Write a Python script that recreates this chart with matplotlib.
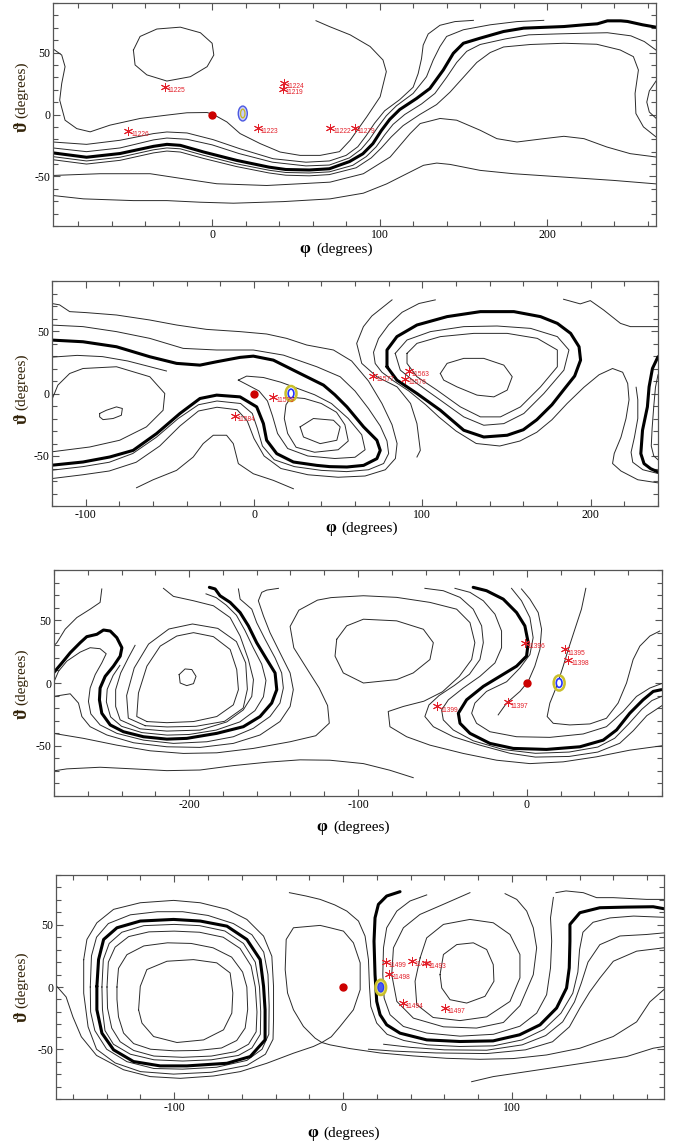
import matplotlib
matplotlib.use("Agg")
import matplotlib.pyplot as plt
from matplotlib.patches import Ellipse
from matplotlib.ticker import MultipleLocator

plt.rcParams['font.family'] = ['Liberation Serif', 'DejaVu Serif']
plt.rcParams['axes.unicode_minus'] = False

W, H = 676, 1142

# ---------------- panel 1 contour lines (phi, theta) ----------------
p1_thick = [(-95,-31),(-75,-34.5),(-55,-31.5),(-35,-25.7),(-27,-24.1),(-19,-24.9),(-5,-30.3),(14.5,-37),(34,-42.5),(44,-44.4),(58,-44.8),(70,-43.8),(82,-38),(90,-31.7),(96,-23.5),(101,-13),(106,-4),(112,4),(122,12.9),(130,21),(138,35.9),(144,49.4),(150,57.5),(160,61.6),(174,67),(186,69.7),(210,71),(222,72.4),(230,73.2),(236,75.6),(244,75.6),(248,75.1),(257,72.4),(265,70.5)]
p1_t1 = [(-95,-22.2),(-75,-24.1),(-55,-20.8),(-35,-15.4),(-27,-14.1),(-15,-14.9),(0.6,-20.3),(16.5,-27.6),(36.4,-35.7),(56,-38.5),(70,-37.5),(80,-33),(87,-26),(92,-17),(97,-7),(103,3),(112,12),(120,22),(123,33),(125,45),(126,56),(129,65),(136,72),(145,75),(156,76)]
p1_t2 = [(-95,-27),(-75,-30),(-55,-27),(-35,-20.5),(-27,-19),(-15,-20),(0,-24.5),(16,-31.5),(36,-38.5),(56,-41.5),(70,-40.8),(82,-35),(89,-28),(94,-20),(99,-10),(104,-1),(110,7),(120,17),(128,30.5),(132,44),(136,54.8),(140,63),(150,68.4),(166,72.4),(182,75),(198,76)]
p1_t3 = [(-95,-34),(-75,-37.5),(-55,-34.5),(-35,-28.5),(-27,-27),(-19,-27.7),(-5,-33),(14.5,-39.8),(34,-45),(44,-46.8),(58,-47.2),(70,-46.3),(84,-41),(92,-34),(98,-26),(103,-16.5),(108,-8),(115,0),(125,8.5),(133,17),(140,30),(146,42),(152,51),(160,56.5),(175,61),(189,64.3),(205,65),(222,65.6),(236,66),(250,63.5),(258,58.9),(265,52)]
p1_t4 = [(-95,-36.5),(-75,-40),(-55,-37),(-35,-31),(-27,-29.5),(-19,-30.3),(-5,-35.5),(14.5,-42),(34,-47.2),(44,-49),(58,-49.5),(70,-48.5),(86,-43),(95,-35),(101,-27),(107,-18),(114,-9),(124,0),(134,8),(142,18),(150,30),(158,42),(166,50),(174,54.5),(190,56.5),(210,57.5),(229.6,56.7),(243.6,52.1),(251.5,46.7),(254.5,35.9),(252.5,17),(253,0.8),(257.5,-10),(265,-18.1)]
p1_b = [(62,75.7),(70,71),(82.4,64.3),(94.3,54.9),(102,44),(104,34.6),(100.3,14.3),(92.3,-1.9),(82.4,-20.8),(76,-30),(64.5,-33),(52.5,-33),(40.6,-30.3),(28.7,-23.5),(16.7,-15.4),(8.8,-6),(0.8,0),(-3,1.6),(-15,1.4),(-27,-0.5),(-43,-3.2),(-61,-8.6),(-72.8,-14),(-80.8,-11.4),(-87.8,-4.6),(-91,11.6),(-89.8,25),(-87.8,38.6),(-89.8,48),(-94.7,52.7)]
p1_loop = [(-47,52),(-43,63),(-33,69),(-19,70.5),(-7,66),(0,57.5),(1,48),(-3,38.6),(-13,30.5),(-27,27),(-39,32),(-46,40),(-47,52)]
p1_arc = [(265,27),(261,19),(259.5,10),(261,2),(265,-3)]
p1_low1 = [(-95,-49.2),(-66.9,-47.8),(-37,-47.8),(-17.1,-51.9),(2.8,-55.9),(32.6,-57.3),(52.5,-55.9),(70.4,-54.6),(90.3,-47.8),(106.3,-34.3),(118.2,-15.4),(124.2,-7.3),(136.1,-3.2),(146,-4.6),(160,-12.7),(170,-19.5),(182,-22.2),(198,-19.5),(210,-17.6),(222,-19.5),(235.6,-26.2),(249.6,-31.6),(265,-34.3)]
p1_low2 = [(-95,-65.4),(-76.8,-68.1),(-47,-69.5),(-27,-69.5),(-7.2,-70.8),(12.7,-71.6),(42.6,-70.3),(70.4,-68.1),(90.3,-63.5),(104.2,-56),(116.2,-47.8),(126.2,-41),(134.1,-39.2),(142.1,-40.3),(160,-45.1),(179.9,-47.8),(209.8,-50.5),(239.7,-53.2),(265,-56)]
p1_stars = [(-28,21.9),(-50,-13.5),(43,25.7),(42.2,20.3),(27.3,-10.8),(70.6,-10.6),(85.2,-10.6)]
p1_labels = ['11225','11226','11224','11219','11223','11222','11279']
p1_sat = (18.3, 0.8)

# ---------------- panel 2 ----------------
p2_thick = [(-121,42.8),(-101.6,41.4),(-81.7,37.4),(-61.9,29.4),(-46,24.1),(-32.1,22.7),(-22.2,25.4),(-8.3,28.9),(-0.4,29.9),(11.5,26.7),(27.4,16),(41.3,6.7),(48,-1),(55.2,-10.7),(65.1,-26.7),(73,-37.4),(75,-45.5),(73,-52.1),(65.1,-57.5),(55.2,-58.8),(45,-58.5),(37.3,-57.5),(23.4,-54.8),(13.5,-48.1),(7.5,-37.4),(5.6,-24.1),(1.6,-10.7),(-8.3,-2.7),(-22.2,-1.3),(-32.1,-4),(-44,-16),(-57.9,-32.1),(-71.8,-45.5),(-85.7,-50.8),(-101.6,-54.8),(-121,-57.5)]
p2_u1 = [(-121,72.2),(-115.5,70.9),(-109.5,65.5),(-99.6,64.7),(-81.7,62.8),(-61.9,58.8),(-46,54.8),(-28.2,51.3),(-8.3,49.5),(7.5,47.6),(19.4,44.1),(31.3,38.8),(47.2,34.8),(58,26),(68,10),(76,-8),(82,-25),(85,-40),(84,-52),(78,-61),(66,-66),(50,-67),(32,-65),(16,-60),(6,-50),(0,-36),(-4,-22),(-10,-13),(-22,-11),(-33,-14),(-44,-26),(-56,-42),(-70,-55),(-86,-62),(-101.6,-65),(-121,-68.2)]
p2_u2 = [(-121,54.8),(-101.6,53.5),(-81.7,49.5),(-61.9,44.1),(-42.1,36.1),(-22.2,34.8),(-0.4,34.8),(17.5,30.7),(37.3,21.4),(51.2,13.4),(60,2),(68,-12),(75,-26),(79,-38),(80,-48),(77,-56),(68,-61),(55,-62.5),(40,-61.5),(24,-58.5),(12,-53),(5,-42),(2,-28),(-1,-16),(-8,-8),(-22,-6),(-33,-9),(-45,-20),(-58,-35),(-72,-48),(-86,-55),(-101.6,-58.5),(-121,-61.5)]
p2_o1 = [(82,74.9),(70,62),(65,53.5),(61,40.1),(64,24.1),(73,13.4),(85,5.3),(93,-8),(96.8,-24.1),(98.8,-45.5),(96.8,-50.8)]
p2_o2 = [(107.7,74.9),(98,72),(88,65),(80,55),(74,44),(71,33),(72,24),(76,17),(83,10),(92,2),(102,-9),(110,-19),(120,-30),(132,-40),(146,-42),(158,-38),(168,-31),(177,-21),(186,-8),(196,5),(205,15),(213,20),(219,17),(222,8),(222.8,-5),(221,-20),(218,-35),(214,-48),(213,-56),(218,-62),(228,-69),(240,-71.5)]
p2_w2 = [(227,5),(228,-5),(228,-20),(226,-35),(224,-47),(225,-55),(231,-61),(240,-64)]
p2_thick2 = [(240,29.4),(236.7,20),(234.7,5.3),(233.7,-10.7),(230.8,-29.4),(229.8,-48.1),(231.7,-56.1),(235.7,-60.2),(240,-62.8)]
p2_w3 = [(240,15),(238.5,5),(237.5,-10),(236.5,-28),(236,-42),(237.5,-50),(240,-53)]
p2_tr = [(183.9,75.4),(193.8,71.7),(199.8,74.3),(207.7,66.8),(217.7,56.1),(223.6,53.5),(240,53.5)]
p2_loopthick = [(79,21.4),(79,34.8),(84.9,45.5),(96.8,54.8),(114.7,61.5),(134.5,65.5),(154.4,65.5),(170.2,61.5),(180.2,56.1),(188.1,48.1),(193.1,37.4),(194,26.7),(190.5,14),(184,3),(177,-9),(168,-21),(160,-29),(150.4,-33.4),(136.5,-34.8),(124.6,-29.4),(110.7,-13.4),(96.8,0),(84.9,10.7),(79,21.4)]
p2_i1 = [(83.9,32.1),(90.9,42.8),(104.8,49.5),(124.6,53.5),(144.4,54),(164.3,52.1),(180.2,45.5),(187.1,34.8),(184.1,18.7),(172.2,0),(160.3,-16),(148.4,-24.1),(136.5,-25.4),(124.6,-18.7),(110.7,-5.3),(96.8,8),(86.9,18.7),(83.9,32.1)]
p2_i2 = [(90.9,32.1),(96.8,40.1),(110.7,45.5),(130.6,48.1),(150.4,48.1),(168.3,44.1),(180.2,34.8),(180.2,21.4),(170.2,5.3),(158.3,-10.7),(146.4,-18.7),(134.5,-18.7),(122.6,-10.7),(108.7,2.7),(96.8,13.4),(90.9,24.1),(90.9,32.1)]
p2_i3 = [(110.7,16),(114.7,24.1),(124.6,28.1),(136.5,28.1),(148.4,22.7),(153.4,13.4),(150.4,2.7),(142.5,-2.7),(132.5,-1.3),(120.6,5.3),(112.7,10.7),(110.7,16)]
p2_loopl = [(-121,-8),(-116.5,6.7),(-109.5,16),(-101.6,20),(-81.7,21.4),(-61.9,13.4),(-53,0),(-54,-13.4),(-63.9,-26.7),(-79.8,-37.4),(-97.6,-42.8),(-121,-46.8)]
p2_small = [(-91.7,-16),(-87.7,-13.4),(-81.7,-10.7),(-78.2,-12),(-78.8,-17.4),(-83.7,-20),(-89.7,-20.9),(-91.7,-18.7),(-91.7,-16)]
p2_s1 = [(-121,29),(-105,30.5),(-90,29.5),(-75,26),(-62,21.5),(-52,18)]
p2_r1 = [(27.4,-26.7),(35.3,-20),(47.2,-21.4),(51.2,-26.7),(49.2,-37.4),(39.3,-40.1),(29.4,-34.8),(27.4,-26.7)]
p2_r2 = [(22,-3),(30,-4),(40,-8),(49,-15),(54,-25),(56,-38),(50,-45),(36,-47),(25,-43),(20,-32),(18,-20),(19,-9),(22,-3)]
p2_r3 = [(-9.3,10.7),(-4.4,13.9),(5.6,12.8),(16,9),(26,4),(36,-1),(46,-8),(56,-20),(64,-33),(66,-45),(60,-51),(48,-52),(32,-50),(20,-44),(14,-32),(11,-18),(8,-6),(3,2),(-4,7),(-9.3,10.7)]
p2_hump = [(-69.8,-75.4),(-59.9,-69),(-46,-61.5),(-36.1,-50.8),(-30.2,-40.1),(-24.2,-33.4),(-16.3,-33.4),(-12.3,-40.1),(-9.3,-56.1),(-0.4,-64.2),(11.5,-69.5),(23.4,-76.2)]
p2_stars = [(11.5,-2.7),(-11.3,-18.2),(70.9,13.9),(91.9,18.2),(89.9,12)]
p2_labels = ['11579','11584','11577','11563','11576']
p2_sat = (22, 0)

# ---------------- panel 3 ----------------
p3_thick = [(-280.3,8),(-275.3,16),(-270.4,24.1),(-264.5,32.1),(-260.6,36.9),(-254.6,38.8),(-250.7,42.2),(-246.7,41.4),(-242.8,36.1),(-239.8,28.1),(-240.8,21.4),(-244.8,13.4),(-249.7,5.3),(-252.7,-4),(-253.1,-13.4),(-251.7,-24.1),(-246.7,-33.4),(-238.9,-38.8),(-227,-42.8),(-213.2,-44.7),(-201.4,-44.1),(-183.6,-40.1),(-167.9,-34.8),(-158,-26.7),(-151.1,-16),(-148.1,-5.3),(-149.1,8),(-154,18.7),(-160,32.1),(-164.9,45.5),(-169.8,56.1),(-175.7,64.2),(-181.7,69.5),(-184.6,74.9),(-188,76.2)]
p3_c0 = [(-205.9,6.7),(-202.4,11.2),(-198.4,10.7),(-195.9,5.3),(-197.4,-0.5),(-201.4,-2.1),(-205.3,0),(-205.9,6.7)]
p3_c1 = [(-225,-30.7),(-231,-26.7),(-230,-8),(-225,13.4),(-217.1,29.4),(-207.3,37.4),(-197.4,40.1),(-185.6,36.9),(-175.7,26.7),(-171.8,10.7),(-170.8,-5.3),(-173.8,-17.4),(-183.6,-26.7),(-197.4,-30.7),(-213.2,-31.6),(-225,-30.7)]
p3_c2 = [(-226,-34),(-236,-28),(-237,-10),(-232.5,12),(-224,31),(-212,43),(-198,47),(-183,43.5),(-172,33),(-166.5,16),(-165.5,-5),(-168,-20),(-179,-30.5),(-196,-34.5),(-213,-35),(-226,-34)]
p3_c3 = [(-215.2,75.4),(-209.3,69),(-197.4,65.5),(-185.6,61.5),(-175.7,52.1),(-169.8,37.4),(-164.9,18.7),(-161.9,2.7),(-162.9,-10.7),(-167.9,-21.4),(-177.7,-31),(-193.5,-37.5),(-213.2,-38.3),(-229,-36.5),(-240.8,-29.4),(-243.5,-18.7),(-243.5,-5.3),(-240.5,8),(-236,20),(-232,30)]
p3_c4 = [(-241,14),(-245,6),(-248.5,-5),(-249,-15),(-246.5,-27),(-240,-34.5),(-228,-39.5),(-213,-41.5),(-200,-41),(-184,-37.5),(-170,-31),(-161,-22),(-156,-11),(-154.5,2),(-157,15),(-162,28),(-167,42),(-172,54),(-178,62),(-184,68),(-190,71)]
p3_ea = [(-280.3,0),(-277.3,9.4),(-272.4,17.4),(-264.5,24.6),(-258.6,28.1),(-252.7,27.3),(-249.1,23.3),(-251.7,16),(-255.6,6.7),(-258.6,-4),(-259.6,-14.7),(-258.2,-24.6),(-252.7,-33.4),(-242.8,-40.1),(-227,-45.5),(-209.3,-48.1),(-189.5,-46.8),(-173.8,-42.8),(-162,-36.1),(-152.1,-26.7),(-146.2,-16),(-144.2,-4),(-145.2,8),(-149.1,20),(-155,34.8),(-160,48.1),(-162.9,58.8),(-169.8,66.8),(-170.8,74.9)]
p3_eb = [(-280.3,-10.7),(-270.4,-8.6),(-265.5,-16),(-263.5,-26.7),(-258.6,-34.8),(-248.7,-41.4),(-232.9,-47.6),(-213.2,-50.8),(-193.5,-51.3),(-173.8,-48.1),(-158,-41.4),(-146.2,-30.7),(-140.2,-18.7),(-138.3,-5.3),(-140.2,8),(-146.2,24.1),(-152.1,40.1),(-156,53.5),(-159,65.5),(-157,72.2),(-154,74),(-147.1,75.4)]
p3_e0 = [(-251.7,74.9),(-252.7,64.2),(-258.6,58.8),(-266.5,52.1),(-273.4,42.8),(-278.3,32.1),(-280.3,29.4)]
p3_long = [(-280.3,-40.1),(-262.5,-44.1),(-242.8,-49.5),(-223.1,-54),(-203.4,-56.1),(-183.6,-55.6),(-162,-52.1),(-140.2,-46.8),(-125,-42),(-117,-32),(-118,-18),(-123,-4),(-131,13),(-138,28),(-140.2,45),(-135,58),(-124,66),(-116,68),(-110,68.5),(-96.8,69.5),(-77.1,68.2),(-57.4,64.2),(-41.6,58.8),(-33.7,48.1),(-30.8,32.1),(-32.7,18.7),(-40,5.3),(-50,-7),(-61,-14.5),(-73.2,-18.7),(-82.1,-22.7),(-81.1,-34.8),(-71.2,-42.8),(-57.4,-49.5),(-37.7,-56.1),(-17.9,-61.5),(1.8,-64.2),(21.5,-62.8),(41.2,-58.8),(60.9,-53.5),(80,-50)]
p3_loop = [(-112.6,34.8),(-106.7,45.5),(-96.8,50.8),(-77.1,49.5),(-61.3,42.8),(-55.4,32.1),(-57.4,18.7),(-67.3,8),(-77.1,2.7),(-96.8,0),(-108.7,8),(-113.6,21.4),(-112.6,34.8)]
p3_low2 = [(-280.3,-70),(-272.4,-68.4),(-252.7,-67.1),(-233,-68.4),(-213.2,-69.8),(-193.5,-69.3),(-173.8,-65.8),(-154,-63.1),(-134.3,-61.2),(-116.6,-61.5),(-96.8,-64.2),(-81.1,-69.5),(-67.3,-75.4)]
p3_thickb = [(-31.8,76.2),(-23.9,73.5),(-14,66.8),(-6.1,56.1),(-1.2,45.5),(0.8,32.1),(-0.2,21.4),(-6.1,13.4),(-16,5.3),(-25.8,-2.7),(-35.7,-13.4),(-40.6,-24.1),(-39.6,-32.1),(-33.7,-40.1),(-21.9,-48.1),(-8.1,-52.1),(11.6,-52.9),(31.4,-50.8),(45.2,-45.5),(53.1,-37.4),(60.9,-24.1),(68.8,-13.4),(74.8,-6.7),(79.7,-5.3)]
p3_f1 = [(-42.6,75.4),(-33.7,72.2),(-25.8,65.5),(-18.9,54.8),(-15,41.4),(-15,28.1),(-18.9,16),(-27.8,5.3),(-37.7,-4),(-46.5,-13.4),(-50.5,-21.4),(-49.5,-29.4),(-43.6,-37.4),(-31.8,-46),(-14,-53),(5,-56),(25,-55),(42,-51),(52,-44),(60,-33),(68,-21),(74,-14),(80,-10.5)]
p3_f2 = [(-60.4,75.4),(-49.5,73.5),(-39.6,68.2),(-31.8,58.8),(-26.8,45.5),(-25.8,32.1),(-27.8,18.7),(-34,7),(-43,-2),(-52,-10),(-58,-17.5),(-60.4,-26.7),(-55.4,-34.8),(-43.6,-42.8),(-27.8,-49.5),(-10,-56),(5,-59),(25,-58.5),(42,-55),(55,-48),(63,-38),(71,-26),(80,-18)]
p3_g1 = [(-9.1,75.4),(-3.2,65.5),(1.8,52.1),(3.7,36.1),(1.8,22.7),(-4.1,12),(-12,1),(-23.9,-6.7),(-30.8,-16),(-32.7,-24.1),(-29.8,-32.1),(-21.9,-38.8),(-6.1,-42.8),(13.6,-43.3),(33.3,-40.6),(47.1,-34.8),(57,-22.7),(64.9,-10.7),(72.8,-4),(79.7,-0.5)]
p3_g2 = [(-3.2,74.9),(1.8,66.8),(6.7,56.1),(8.7,42.8),(7.7,26.7),(4.7,13.4),(0.8,1.3),(-4.1,-6.7),(-12,-16),(-17,-25.4)]
p3_h1 = [(34.9,75.4),(32.3,58.8),(28.4,42.8),(24.5,26.7),(21.5,13.4),(17.6,-2.7),(13.6,-16),(12,-26.7),(15.6,-32.1),(25.4,-33.4),(37.3,-32.6),(47.1,-28.1),(54,-16),(59,0),(62.9,18.7),(66.9,29.4),(72.8,37.4),(78.7,41.4)]
p3_stars = [(-1.2,31.6),(22.5,26.7),(24.5,18.7),(-11.4,-15.5),(-53,-18.7)]
p3_labels = ['11396','11395','11398','11397','11399']
p3_sat = (19.1, 0)

# ---------------- panel 4 ----------------
p4_thickl = [(-145.8,0.5),(-144.8,22),(-141.8,38.2),(-133.9,47.6),(-120.1,53),(-100.4,54.3),(-84.6,53),(-68.8,48.9),(-57,38.2),(-49.1,22),(-47.1,0.5),(-46.2,-18.3),(-46.2,-42.5),(-55,-55.9),(-68.8,-61.3),(-92.5,-63.4),(-108.3,-63.4),(-124.1,-59.9),(-135.9,-50.5),(-142.8,-37.1),(-145.8,-18.3),(-145.8,0.5)]
p4_la = [(-153.6,22),(-151.7,38.2),(-145.8,51.6),(-135.9,62.4),(-120.1,67.7),(-100.4,69.6),(-84.6,67.7),(-68.8,62.4),(-57,54.3),(-47.1,40.9),(-42.2,24.7),(-41.2,0.5),(-41.2,-26.3),(-41.5,-42),(-46,-54),(-57,-63),(-78,-68.5),(-100.4,-70),(-120,-68),(-135,-61),(-146,-50),(-151,-32),(-153.6,-5),(-153.6,22)]
p4_lb = [(-149.7,0),(-149,25),(-146,40),(-139,51),(-126,58),(-110,60.5),(-95,60.5),(-80,57.5),(-65,51),(-54,42),(-47,28),(-44.5,10),(-43.8,-15),(-44,-38),(-48,-50),(-57,-59),(-75,-64.5),(-95,-66),(-112,-65.5),(-128,-60),(-140,-50),(-147,-35),(-149.5,-20),(-149.7,0)]
p4_lc = [(-142.8,0),(-142,22),(-138.5,35),(-131,44),(-118,49.3),(-100,50.3),(-85,49.3),(-70,45),(-59,35),(-52,20),(-49.5,0),(-48.8,-20),(-49,-38),(-54,-49),(-62,-55),(-78,-58.5),(-95,-59.5),(-112,-58.5),(-126,-54),(-136,-46),(-141,-35),(-142.5,-18),(-142.8,0)]
p4_ld = [(-139.8,0),(-139,20),(-135,32),(-127,40.5),(-115,44.3),(-100,44.9),(-85,44),(-71,40),(-61,31),(-54.5,17),(-52,0),(-51,-20),(-51.5,-36),(-56,-46),(-64,-52),(-78,-55.5),(-95,-56.5),(-112,-55.5),(-124,-51),(-132,-44),(-137,-33),(-139.5,-17),(-139.8,0)]
p4_le = [(-133.9,0),(-133,15),(-128,26),(-118,33),(-104,35.5),(-90,35),(-77,31.5),(-66,24),(-59.5,12),(-57,0),(-56.5,-18),(-58,-33),(-63,-43),(-72,-49),(-86,-51),(-100,-51.3),(-114,-50),(-124,-45.5),(-130,-37),(-133,-24),(-133.9,-10),(-133.9,0)]
p4_lf = [(-121.1,-18.3),(-120.1,0.5),(-116.2,14),(-104.3,20.7),(-88.6,22),(-74.8,19.4),(-66.9,11.3),(-65.3,-4.8),(-65.9,-21),(-70.8,-34.4),(-82.6,-42.5),(-98.4,-44.6),(-112.2,-39.8),(-119.1,-29),(-121.1,-18.3)]
p4_o0 = [(-170.4,1.9),(-164,-8),(-160,-24),(-155,-40),(-146,-55),(-130,-66.5),(-114.2,-72),(-96.4,-73.4),(-76.7,-71.5),(-60.9,-68),(-45.2,-61.3),(-29.4,-53.2),(-17.6,-47.8),(-12.6,-44.6),(-7.7,-46.5),(4.1,-49.5),(21.9,-53),(41.6,-55.4),(61.3,-57.3),(81.1,-58.1),(100.8,-57.5),(120.5,-54.6),(140.2,-49.2),(159.9,-39.8),(173.8,-28),(181.6,-12),(190,-2)]
p4_mid = [(-12.6,-44.6),(-7,-40),(-1.8,-31.7),(6.1,-18.3),(10.1,-2.2),(10.1,19.4),(6.1,35.5),(0.2,44.9),(-7.7,47.6),(-13.6,49.5),(-29.4,47.6),(-33.7,38.2),(-34.3,14),(-32.9,-4.8),(-29.4,-18.3),(-23.5,-31.7),(-16.6,-41.1),(-12.6,-44.6)]
p4_k1 = [(-31.8,75.8),(-21.9,73.1),(-13.6,70.4),(-5,66),(2.2,61),(9.1,53),(13,40.9),(15,22),(15.6,0.5),(16.4,-15.6),(19.9,-29),(26,-38),(36,-43),(50,-46.5),(69,-47.8),(89,-47.3),(106,-42.5),(119,-34),(129,-21),(136,-5),(139,12),(140,30),(142,44),(148,52),(158,55.5),(172,57),(190,56)]
p4_ka = [(24,-46),(40,-48.5),(60,-50.5),(85,-50.8),(106,-46.5),(120,-39),(130,-28),(137,-12),(141,3),(145,20),(152,34),(163.9,41),(179.7,42.2),(190,43.5)]
p4_kb = [(15,-50),(30,-51.5),(55,-53),(85,-53.5),(108,-50.5),(124,-44),(134,-32),(140.2,-16.9),(146,-4),(152.1,7.3),(160,20.7),(173.8,28.8),(190,31.5)]
p4_short = [(76.1,-76.1),(88.9,-72),(108.7,-68),(128.4,-64),(148.1,-60),(167.9,-55.9),(183.6,-49.2),(190,-47.8)]
p4_top = [(126,75.8),(132,77.2),(142.2,75.8),(150.1,71.8),(160,71.8),(179.7,70.4),(190,70.4)]
p4_thickr = [(33.7,76.6),(25.8,73.1),(20.9,66.4),(18.9,55.6),(18.3,36.8),(18.9,9.9),(19.9,-11.6),(21.9,-22.3),(25.8,-30.4),(33.7,-37.1),(49.5,-42.5),(69.2,-43.8),(88.8,-43.3),(104.5,-38.4),(116.6,-30.4),(126.4,-16.9),(132.3,-0.8),(133.9,15.3),(134.3,36.8),(134.3,50.3),(140.2,59.7),(152,63.7),(167.8,64.2),(183.6,64.5),(190,62.9)]
p4_j0 = [(49.5,74),(39.6,69.1),(31.8,61),(25.8,47.6),(23.9,31.5),(23.5,9.9),(24.3,-8.9),(27.8,-22.3),(35.7,-31.7),(49.5,-37),(69.2,-39.5),(89,-38),(104.7,-31.5),(114.6,-21),(120.5,-6.2),(122.8,15.3),(123.5,36.8),(122.8,55.6),(124.5,72)]
p4_j1 = [(75.1,75.8),(59.3,66.4),(45.5,58.3),(35.7,47.6),(29.8,31.5),(28.8,9.9),(31.8,-11.6),(41.6,-25),(59.4,-32),(79,-33),(94.9,-28.5),(104.7,-15),(112.6,9.9),(114.6,31.5),(112.6,47.6),(108.7,61),(102.8,70.4),(95.9,75)]
p4_j2 = [(45.6,23.4),(49.5,39.5),(59.4,50.3),(75.1,54.3),(88.9,51.6),(98.8,42.2),(104.7,26.1),(104.7,7.3),(98.8,-11.6),(85,-24),(69.2,-27),(53.3,-24.5),(43.6,-14.2),(42.6,4.6),(45.6,23.4)]
p4_j3 = [(57.4,9.9),(59.4,26.1),(67.3,34.1),(77.1,35.5),(85,30.1),(88.9,18),(89.3,4.6),(84,-7.5),(73.2,-12.9),(63.3,-10.2),(58.4,-0.8),(57.4,9.9)]
p4_stars = [(25.4,20.2),(27.4,10.8),(40.6,21.2),(49.1,19.4),(35.3,-12.9),(60.4,-16.7)]
p4_labels = ['11499','11498','11496','11493','11494','11497']
p4_sat = (22.3, -0.3)

# pixel boxes of the four plot frames: left, top, right, bottom
panels = [
    dict(box=(53, 3, 656, 226), xlim=(-95, 265),
         thin=[p1_t1, p1_t2, p1_t3, p1_t4, p1_b, p1_loop, p1_arc, p1_low1, p1_low2],
         thick=[p1_thick], stars=p1_stars, labels=p1_labels, sat=p1_sat, sat_kind='blue',
         xlab=(305, 316, 249), ylab=118),
    dict(box=(52, 281, 658, 506), xlim=(-120, 240),
         thin=[p2_u1, p2_u2, p2_o1, p2_o2, p2_w2, p2_w3, p2_tr, p2_i1, p2_i2, p2_i3,
               p2_loopl, p2_small, p2_s1, p2_r1, p2_r2, p2_r3, p2_hump],
         thick=[p2_thick, p2_loopthick, p2_thick2], stars=p2_stars, labels=p2_labels,
         sat=p2_sat, sat_kind='ring', xlab=(331, 341, 528), ylab=410),
    dict(box=(54, 570, 662, 796), xlim=(-280, 80),
         thin=[p3_c0, p3_c1, p3_c2, p3_c3, p3_c4, p3_ea, p3_eb, p3_e0, p3_long, p3_loop,
               p3_low2, p3_f1, p3_f2, p3_g1, p3_g2, p3_h1],
         thick=[p3_thick, p3_thickb], stars=p3_stars, labels=p3_labels,
         sat=p3_sat, sat_kind='ring', xlab=(322, 333, 827), ylab=705),
    dict(box=(56, 875, 664, 1099), xlim=(-170, 190),
         thin=[p4_la, p4_lb, p4_lc, p4_ld, p4_le, p4_lf, p4_o0, p4_mid, p4_k1, p4_ka, p4_kb,
               p4_short, p4_top, p4_j0, p4_j1, p4_j2, p4_j3],
         thick=[p4_thickl, p4_thickr], stars=p4_stars, labels=p4_labels,
         sat=p4_sat, sat_kind='filled', xlab=(313, 323, 1133), ylab=1008),
]

fig = plt.figure(figsize=(W / 100, H / 100), dpi=100)
ylab_color = '#33240a'

for p in panels:
    l, t, r, b = p['box']
    ax = fig.add_axes([l / W, 1 - b / H, (r - l) / W, (b - t) / H])
    ax.set_xlim(*p['xlim'])
    ax.set_ylim(-90, 90)

    for line in p['thin']:
        xs, ys = zip(*line)
        ax.plot(xs, ys, color='#2a2a2a', lw=0.7, solid_joinstyle='round')
    for line in p['thick']:
        xs, ys = zip(*line)
        ax.plot(xs, ys, color='black', lw=2.2, solid_joinstyle='round', solid_capstyle='round')

    # simulation origin
    ax.plot(0, 0, 'o', color='#cc0000', ms=5, zorder=5)

    # satellite marker
    sx, sy = p['sat']
    if p['sat_kind'] == 'blue':
        ax.add_patch(Ellipse((sx, sy), 5.4, 12, fc='#c9cdfa', ec='#4b58e0', lw=1.0, zorder=6))
        ax.add_patch(Ellipse((sx, sy), 2.6, 7, fc='none', ec='#c8b820', lw=0.9, zorder=7))
    elif p['sat_kind'] == 'ring':
        ax.add_patch(Ellipse((sx, sy), 6.5, 12, fc='none', ec='#c9bf2a', lw=1.8, zorder=6))
        ax.add_patch(Ellipse((sx, sy), 3.4, 7, fc='white', ec='#2433ff', lw=1.2, zorder=7))
    else:
        ax.add_patch(Ellipse((sx, sy), 6.5, 12.5, fc='#e0dc70', ec='#c9bf2a', lw=1.6, zorder=6))
        ax.add_patch(Ellipse((sx, sy), 3.4, 7.5, fc='#4a5cf0', ec='#2433ff', lw=0.8, zorder=7))

    # red stars with event numbers
    for (x, y), lab in zip(p['stars'], p['labels']):
        ax.plot(x, y, marker=(6, 2, 0), ms=6.5, mew=0.7, color='#e3202a', ls='none', zorder=8)
        ax.annotate(lab, (x, y), xytext=(2, -2.6), textcoords='offset points',
                    fontsize=4.8, color='#e3202a', family=['Liberation Sans', 'DejaVu Sans'],
                    ha='left', va='center', zorder=8)

    ax.xaxis.set_major_locator(MultipleLocator(100))
    ax.xaxis.set_minor_locator(MultipleLocator(20))
    ax.yaxis.set_major_locator(MultipleLocator(50))
    ax.yaxis.set_minor_locator(MultipleLocator(10))
    ax.tick_params(which='both', direction='in', top=True, right=True,
                   color='#555555', width=0.8, labelsize=8.5, pad=2)
    ax.tick_params(which='major', length=5)
    ax.tick_params(which='minor', length=3.5)
    for s in ax.spines.values():
        s.set_color('#555555')
        s.set_linewidth(0.9)

    # axis titles
    px, dx, py = p['xlab']
    fig.text(px / W, 1 - py / H, 'φ', fontsize=12.5, fontweight='bold', ha='center', va='center')
    fig.text(dx / W, 1 - py / H, '(degrees)', fontsize=11, ha='left', va='center')
    yb = p['ylab']
    fig.text(22 / W, 1 - yb / H, '(degrees)', fontsize=11, rotation=90,
             ha='center', va='bottom', color=ylab_color)
    fig.text(22 / W, 1 - (yb + 3) / H, 'ϑ', fontsize=13, fontweight='bold', rotation=90,
             ha='center', va='top', color=ylab_color)

fig.savefig('out.png', dpi=100)
